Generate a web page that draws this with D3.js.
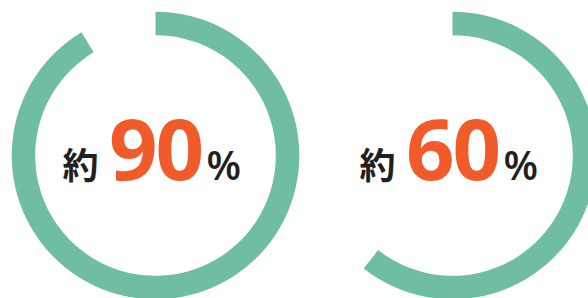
<!DOCTYPE html>
<html>
<head>
<meta charset="utf-8">
<script src="https://cdn.jsdelivr.net/npm/d3@7"></script>
<style>
  html, body { margin: 0; padding: 0; background: #fff; }
  svg { display: block; }
</style>
</head>
<body>
<div class="chart"></div>
<script>
const arcValues = [91.4, 60.6];
// numbers printed in the middle
const labels = ['90', '60'];
const prefix = ['約', '約'];
const suffix = ['%', '%'];

const width = 588, height = 298;
const svg = d3.select('.chart').append('svg')
  .attr('width', width)
  .attr('height', height);

const centers = d3.scalePoint()
  .domain(d3.range(arcValues.length))
  .range([155.5, 452.5]);

const angle = d3.scaleLinear()
  .domain([0, 100])
  .range([0, 2 * Math.PI]);

const arc = d3.arc()
  .innerRadius(120.3)
  .outerRadius(143.8)
  .startAngle(0)
  .endAngle(d => angle(d));

const g = svg.selectAll('.donut')
  .data(arcValues)
  .enter().append('g')
  .attr('class', 'donut')
  .attr('transform', (d, i) => `translate(${centers(i)},155.5)`);

g.append('path')
  .attr('d', d => arc(d))
  .attr('fill', '#6fbea1');

g.append('text')
  .attr('x', -93)
  .attr('y', 23)
  .attr('font-family', '"Noto Sans CJK JP", sans-serif')
  .attr('font-weight', 700)
  .attr('font-size', 36)
  .attr('fill', '#231f20')
  .text((d, i) => prefix[i]);

g.append('text')
  .attr('x', 0)
  .attr('y', 24)
  .attr('text-anchor', 'middle')
  .attr('font-family', '"Open Sans", sans-serif')
  .attr('font-weight', 700)
  .attr('font-size', 85)
  .attr('letter-spacing', -2)
  .attr('fill', '#f15a29')
  .text((d, i) => labels[i]);

g.append('text')
  .attr('x', 51)
  .attr('y', 24)
  .attr('font-family', '"Open Sans", sans-serif')
  .attr('font-weight', 600)
  .attr('font-size', 40)
  .attr('fill', '#231f20')
  .text((d, i) => suffix[i]);
</script>
</body>
</html>
